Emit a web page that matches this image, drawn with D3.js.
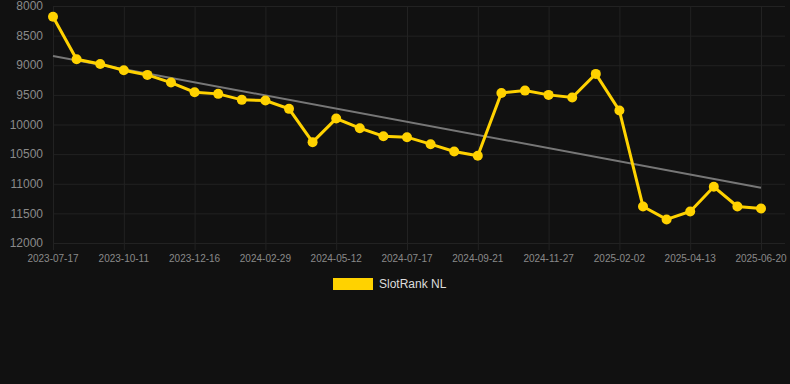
<!DOCTYPE html>
<html lang="en">
  <head>
    <meta charset="utf-8" />
    <title>SlotRank NL</title>
    <script type="text/javascript" src="https://cdn.jsdelivr.net/npm/d3@7"></script>
    <style type="text/css">
      body { margin: 0; background: #111111; }
      text { font-family: "Liberation Sans", Arial, sans-serif; }
    </style>
  </head>

  <body>
    <script type="text/javascript">
      // dates (only every 3rd one is shown on the axis)
      const dates = [
        "2023-07-17", "2023-08-14", "2023-09-12", "2023-10-11", "2023-11-02", "2023-11-24",
        "2023-12-16", "2024-01-10", "2024-02-04", "2024-02-29", "2024-03-23", "2024-04-17",
        "2024-05-12", "2024-06-03", "2024-06-25", "2024-07-17", "2024-08-08", "2024-08-30",
        "2024-09-21", "2024-10-13", "2024-11-05", "2024-11-27", "2024-12-19", "2025-01-11",
        "2025-02-02", "2025-02-25", "2025-03-20", "2025-04-13", "2025-05-05", "2025-05-28",
        "2025-06-20"
      ];
      const rank = [
        8180, 8900, 8978, 9084, 9163, 9292, 9455, 9483, 9584, 9596, 9736,
        10298, 9900, 10062, 10197, 10214, 10332, 10456, 10528, 9467, 9428,
        9500, 9545, 9146, 9765, 11383, 11602, 11467, 11051, 11383, 11417
      ];
      const yTicks = [8000, 8500, 9000, 9500, 10000, 10500, 11000, 11500, 12000];
      const seriesName = "SlotRank NL";

      const width = 790, height = 384;
      const plotLeft = 53, plotRight = 761, plotTop = 6, plotBottom = 243;

      const svg = d3.select("body").append("svg")
        .attr("width", width)
        .attr("height", height);

      const x = d3.scalePoint().domain(dates).range([plotLeft, plotRight]);
      const y = d3.scaleLinear().domain([8000, 12000]).range([plotTop, plotBottom]);

      const shown = dates.filter(function (d, i) { return i % 3 === 0; });

      // grid
      svg.append("g").selectAll("line").data(yTicks).enter().append("line")
        .attr("x1", plotLeft).attr("x2", 785)
        .attr("y1", function (d) { return y(d) + 0.5; })
        .attr("y2", function (d) { return y(d) + 0.5; })
        .attr("stroke", "#222222");
      svg.append("g").selectAll("line").data(shown).enter().append("line")
        .attr("x1", function (d) { return x(d) + 0.5; })
        .attr("x2", function (d) { return x(d) + 0.5; })
        .attr("y1", plotTop).attr("y2", plotBottom + 7)
        .attr("stroke", "#222222");

      // y axis labels
      svg.append("g").selectAll("text").data(yTicks).enter().append("text")
        .attr("x", 43)
        .attr("y", function (d) { return y(d); })
        .attr("dy", "0.35em")
        .attr("text-anchor", "end")
        .attr("font-size", 12)
        .attr("fill", "#8a8a8a")
        .text(function (d) { return d; });

      // x axis labels
      svg.append("g").selectAll("text").data(shown).enter().append("text")
        .attr("x", function (d) { return x(d); })
        .attr("y", 262)
        .attr("text-anchor", "middle")
        .attr("font-size", 10)
        .attr("fill", "#8a8a8a")
        .text(function (d) { return d; });

      // trend line (least squares)
      const n = rank.length;
      const mx = d3.mean(rank, function (d, i) { return i; });
      const my = d3.mean(rank);
      let sxy = 0, sxx = 0;
      rank.forEach(function (d, i) {
        sxy += (i - mx) * (d - my);
        sxx += (i - mx) * (i - mx);
      });
      const slope = sxy / sxx;
      const icpt = my - slope * mx;
      svg.append("line")
        .attr("x1", x(dates[0]))
        .attr("y1", y(icpt))
        .attr("x2", x(dates[n - 1]))
        .attr("y2", y(icpt + slope * (n - 1)))
        .attr("stroke", "#777777")
        .attr("stroke-width", 2);

      // series
      const line = d3.line()
        .x(function (d, i) { return x(dates[i]); })
        .y(function (d) { return y(d); });
      svg.append("path")
        .datum(rank)
        .attr("d", line)
        .attr("fill", "none")
        .attr("stroke", "#ffd200")
        .attr("stroke-width", 3);
      svg.append("g").selectAll("circle").data(rank).enter().append("circle")
        .attr("cx", function (d, i) { return x(dates[i]); })
        .attr("cy", function (d) { return y(d); })
        .attr("r", 5)
        .attr("fill", "#ffd200");

      // legend
      svg.append("rect")
        .attr("x", 333).attr("y", 278)
        .attr("width", 40).attr("height", 12)
        .attr("fill", "#ffd200");
      svg.append("text")
        .attr("x", 379).attr("y", 284)
        .attr("dy", "0.35em")
        .attr("font-size", 12)
        .attr("fill", "#dddddd")
        .text(seriesName);
    </script>
  </body>
</html>
